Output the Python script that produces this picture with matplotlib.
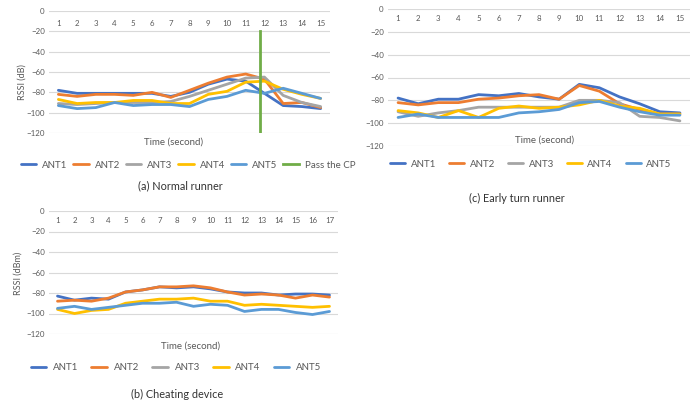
import matplotlib
matplotlib.use("Agg")
import matplotlib.pyplot as plt

plt.rcParams["font.family"] = ["Lato", "DejaVu Sans"]

W, H = 697, 409

# (a) Normal runner
time_a = list(range(1, 16))
a_ant1 = [-78, -81, -81, -81, -81, -81, -84, -80, -72, -67, -69, -81, -93, -94, -96]
a_ant2 = [-82, -84, -82, -82, -83, -80, -85, -78, -71, -65, -62, -67, -91, -90, -95]
a_ant3 = [-91, -92, -91, -90, -90, -90, -89, -84, -78, -72, -66, -65, -83, -90, -94]
a_ant4 = [-87, -91, -90, -90, -88, -88, -91, -91, -82, -79, -70, -69, -77, -82, -86]
a_ant5 = [-93, -96, -95, -90, -93, -92, -92, -94, -87, -84, -78, -81, -76, -81, -86]
cp_x = 11.75
cp_range = [-20, -120]

# (c) Early turn runner
time_c = list(range(1, 16))
c_ant1 = [-78, -83, -79, -79, -75, -76, -74, -77, -79, -66, -69, -77, -83, -90, -91]
c_ant2 = [-82, -84, -82, -82, -79, -78, -76, -75, -79, -67, -72, -83, -88, -92, -92]
c_ant3 = [-90, -94, -91, -89, -86, -86, -86, -86, -86, -80, -80, -82, -94, -95, -98]
c_ant4 = [-89, -91, -95, -89, -95, -87, -85, -87, -86, -84, -80, -85, -87, -92, -92]
c_ant5 = [-95, -92, -95, -95, -95, -95, -91, -90, -88, -82, -81, -86, -90, -93, -93]

# (b) Cheating device (ANT3 not visible in the chart)
time_b = list(range(1, 18))
b_ant1 = [-83, -87, -85, -86, -79, -77, -74, -75, -74, -76, -79, -80, -80, -82, -81, -81, -82]
b_ant2 = [-88, -87, -88, -85, -79, -77, -74, -74, -73, -75, -79, -82, -81, -82, -85, -82, -84]
b_ant3 = []
b_ant4 = [-96, -100, -97, -96, -90, -88, -86, -86, -85, -88, -88, -92, -91, -92, -93, -94, -93]
b_ant5 = [-95, -93, -96, -94, -92, -90, -90, -89, -93, -91, -92, -98, -96, -96, -99, -101, -98]

names = ["ANT1", "ANT2", "ANT3", "ANT4", "ANT5"]
colors = ["#4472C4", "#ED7D31", "#A5A5A5", "#FFC000", "#5B9BD5"]
cp_color = "#70AD47"
text_col = "#595959"

fig = plt.figure(figsize=(W / 100, H / 100), dpi=100)


def px_axes(left, top, right, bottom):
    return fig.add_axes([left / W, 1 - bottom / H, (right - left) / W, (bottom - top) / H])


def ftext(x, y, s, **kw):
    return fig.text(x / W, 1 - y / H, s, ha="center", va="center", **kw)


def rssi_chart(box, t, series, label_pad):
    ax = px_axes(*box)
    lines = []
    for vals, name, col in zip(series, names, colors):
        xs = t[: len(vals)]
        (ln,) = ax.plot(xs, vals, color=col, lw=2.0, label=name, solid_capstyle="round")
        lines.append(ln)
    ax.set_xlim(0.5, len(t) + 0.5)
    ax.set_ylim(-120, 0)
    ax.set_yticks(range(-120, 1, 20))
    ax.set_xticks(t)
    ax.grid(axis="y", color="#D9D9D9", lw=0.8)
    ax.set_axisbelow(True)
    for s in ax.spines.values():
        s.set_visible(False)
    ax.tick_params(axis="y", length=0, labelsize=5.7, labelcolor=text_col, pad=3)
    ax.tick_params(axis="x", length=0, labelsize=5.7, labelcolor=text_col,
                   bottom=False, labelbottom=False, top=True, labeltop=True, pad=label_pad)
    return ax, lines


# (a)
ax_a, lines_a = rssi_chart((49, 11, 330, 133), time_a,
                           [a_ant1, a_ant2, a_ant3, a_ant4, a_ant5], -11.5)
(cp_line,) = ax_a.plot([cp_x, cp_x], cp_range, color=cp_color, lw=2.0, label="Pass the CP")
ftext(22, 82, "RSSI (dB)", rotation=90, fontsize=6.5, color=text_col)
ftext(174, 142, "Time (second)", fontsize=7, color=text_col,
      bbox=dict(facecolor="white", edgecolor="none", pad=1.5))
fig.legend(lines_a + [cp_line], names + ["Pass the CP"], loc="center",
           bbox_to_anchor=(188 / W, 1 - 165 / H), ncol=6, frameon=False, fontsize=7,
           labelcolor=text_col, handlelength=1.6, handletextpad=0.6, columnspacing=0.6)
ftext(180, 186, "(a) Normal runner", fontsize=7.8, color="#333333")

# (c)
ax_c, lines_c = rssi_chart((388, 9, 690, 146), time_c,
                           [c_ant1, c_ant2, c_ant3, c_ant4, c_ant5], -9.5)
ftext(545, 140, "Time (second)", fontsize=7, color=text_col,
      bbox=dict(facecolor="white", edgecolor="none", pad=1.5))
fig.legend(lines_c, names, loc="center", bbox_to_anchor=(531 / W, 1 - 164 / H),
           ncol=5, frameon=False, fontsize=7, labelcolor=text_col,
           handlelength=1.5, handletextpad=0.6, columnspacing=1.35)
ftext(517, 198, "(c) Early turn runner", fontsize=7.8, color="#333333")

# (b)
ax_b, lines_b = rssi_chart((49, 211, 338, 334), time_b,
                           [b_ant1, b_ant2, b_ant3, b_ant4, b_ant5], -9.5)
ftext(18, 273, "RSSI (dBm)", rotation=90, fontsize=6.5, color=text_col)
ftext(191, 346, "Time (second)", fontsize=7, color=text_col)
fig.legend(lines_b, names, loc="center", bbox_to_anchor=(176 / W, 1 - 368 / H),
           ncol=5, frameon=False, fontsize=7, labelcolor=text_col,
           handlelength=1.6, handletextpad=0.7, columnspacing=1.35)
ftext(177, 394, "(b) Cheating device", fontsize=7.8, color="#333333")

fig.savefig("out.png", dpi=100)
plt.close(fig)
